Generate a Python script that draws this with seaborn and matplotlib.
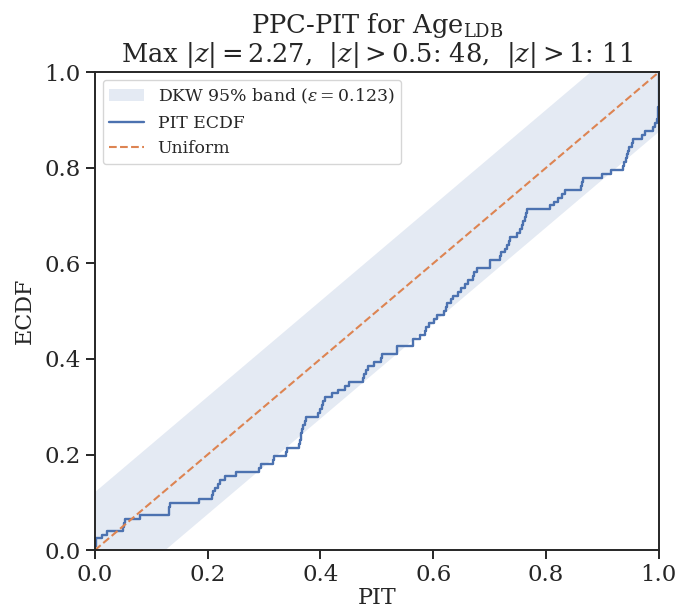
import numpy as np
import pandas as pd
import matplotlib
matplotlib.use("Agg")
import matplotlib.pyplot as plt
import seaborn as sns

# ---- data (PIT values, n = 122) ----
pit_values = [
    0.001, 0.002, 0.003, 0.012, 0.022, 0.050, 0.052, 0.054, 0.080,
    0.131, 0.132, 0.133, 0.185, 0.207, 0.210, 0.214, 0.218, 0.222,
    0.230, 0.250, 0.291, 0.295, 0.316, 0.318, 0.339, 0.341,
    0.362, 0.363, 0.365, 0.366, 0.368, 0.370, 0.372, 0.374,
    0.396, 0.399, 0.402, 0.405, 0.408, 0.420, 0.431, 0.443, 0.451,
    0.475, 0.478, 0.481, 0.484, 0.495, 0.508, 0.510, 0.535, 0.536,
    0.564, 0.565, 0.576, 0.585, 0.588, 0.593, 0.601, 0.607,
    0.619, 0.622, 0.625, 0.631, 0.635, 0.644, 0.650, 0.656, 0.662,
    0.670, 0.672, 0.678, 0.700, 0.701, 0.719, 0.721, 0.728, 0.730,
    0.734, 0.736, 0.748, 0.754, 0.758, 0.760, 0.763, 0.765, 0.767,
    0.807, 0.815, 0.822, 0.828, 0.834, 0.862, 0.863, 0.865,
    0.900, 0.916, 0.936, 0.938, 0.941, 0.943, 0.946, 0.948, 0.952,
    0.955, 0.970, 0.975, 0.990, 0.993, 0.996, 0.998, 0.998, 0.999,
    1.0, 1.0, 1.0, 1.0, 1.0, 1.0, 1.0, 1.0, 1.0,
]
dkw_eps = 0.123
uniform_ends = [0.0, 1.0]
tick_values = [0.0, 0.2, 0.4, 0.6, 0.8, 1.0]
tick_labels = ["0.0", "0.2", "0.4", "0.6", "0.8", "1.0"]

title_text = ("PPC-PIT for Age$_{\\mathrm{LDB}}$\n"
              "Max $|z| = 2.27$,  $|z| > 0.5$: 48,  $|z| > 1$: 11")
band_label = "DKW 95% band ($\\varepsilon = 0.123$)"

# ---- style ----
sns.set_theme(style="ticks")
plt.rcParams["font.family"] = ["DejaVu Serif"]
plt.rcParams["mathtext.fontset"] = "dejavuserif"

pal = sns.color_palette("deep")

fig = plt.figure(figsize=(6.92, 6.12), dpi=100)
ax = fig.add_axes([0.137, 0.101, 0.815, 0.781])

grid = np.linspace(0, 1, 501)
lower = np.clip(grid - dkw_eps, 0, 1)
upper = np.clip(grid + dkw_eps, 0, 1)
ax.fill_between(grid, lower, upper, color=pal[0], alpha=0.15, linewidth=0,
                label=band_label)

df = pd.DataFrame({"PIT": pit_values})
sns.ecdfplot(data=df, x="PIT", ax=ax, color=pal[0], linewidth=1.7,
             label="PIT ECDF")

ax.plot(uniform_ends, uniform_ends, linestyle="--", color=pal[1],
        linewidth=1.5, label="Uniform")

ax.set_xlim(0, 1)
ax.set_ylim(0, 1)
ax.set_xticks(tick_values)
ax.set_xticklabels(tick_labels)
ax.set_yticks(tick_values)
ax.set_yticklabels(tick_labels)
ax.tick_params(labelsize=16.5, length=6.5, width=1.4, pad=3.5)
for s in ax.spines.values():
    s.set_linewidth(1.4)
    s.set_color("#262626")
ax.set_xlabel("PIT", fontsize=16, labelpad=1)
ax.set_ylabel("ECDF", fontsize=16, labelpad=6)
ax.set_title(title_text, fontsize=18.5, linespacing=1.0, pad=7)

ax.legend(loc="upper left", fontsize=12.4, frameon=True, handlelength=2.0,
          borderaxespad=0.45)

fig.savefig("out.png", dpi=100)
